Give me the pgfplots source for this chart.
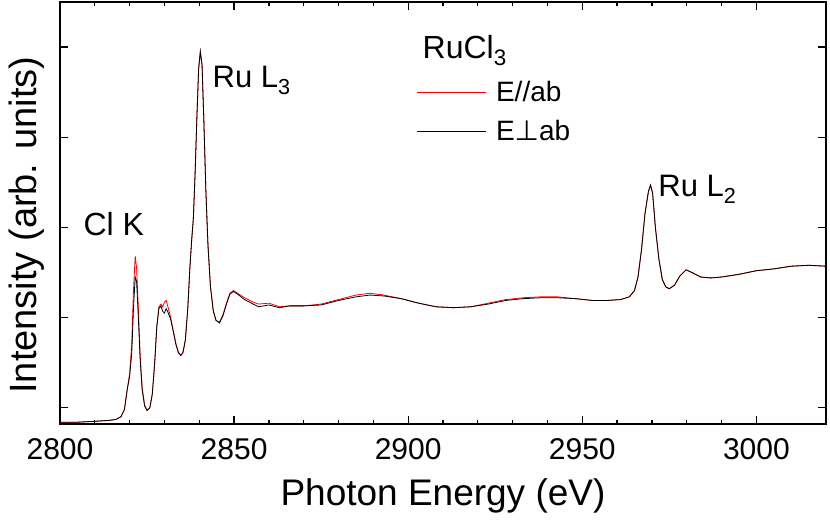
\documentclass[border=0pt]{standalone}
\usepackage{fontspec}
\setmainfont{Liberation Sans}
\newfontfamily\dejavu{DejaVu Sans}
\usepackage{pgfplots}
\pgfplotsset{compat=1.18}
\begin{document}
\begin{tikzpicture}
\begin{axis}[
  at={(0,0)}, anchor=south west,
  scale only axis, width=766pt, height=422pt,
  xmin=2800, xmax=3020, ymin=-0.18, ymax=4.5,
  xtick={2800,2850,...,3000}, minor x tick num=4,
  ytick={0,1,2,3,4}, yticklabels={},
  major tick length=8pt, minor tick length=4.5pt,
  tick style={line width=1.3pt, black},
  axis line style={line width=1.4pt},
  /pgf/number format/assume math mode=true,
  /pgf/number format/1000 sep={},
  ticklabel style={font=\fontsize{30}{34}\selectfont},
  xticklabel style={yshift=-11pt},
  xlabel={Photon Energy (eV)},
  ylabel={Intensity (arb. units)},
  label style={font=\fontsize{37}{41}\selectfont},
  xlabel style={yshift=-12pt},
  ylabel style={yshift=5pt, xshift=-12pt, font=\fontsize{38}{42}\selectfont},
  legend style={draw=none, fill=none, at={(axis cs:2901.4,3.67)}, anchor=north west,
     font=\fontsize{28}{32}\selectfont, row sep=13.5pt, column sep=8pt,
     legend cell align=left},
  legend image code/.code={\draw[#1] (0pt,0pt) -- (69pt,0pt);},
]
\addplot[red, line width=0.8pt] coordinates {
(2800,-0.16) (2805,-0.16) (2810,-0.15) (2814,-0.14) (2816,-0.13) (2817.5,-0.10)
(2818.5,-0.02) (2819.3,0.2) (2820,0.38) (2820.6,0.7) (2821.1,1.3) (2821.6,1.68)
(2822.0,1.55) (2822.5,1.1) (2823.0,0.6) (2823.6,0.22) (2824.3,0.03) (2825.0,-0.03)
(2825.8,0.0) (2826.5,0.15) (2827.2,0.5) (2827.8,0.9) (2828.4,1.12) (2829.0,1.15)
(2829.5,1.12) (2830.0,1.17) (2830.5,1.19) (2831.0,1.12) (2831.8,1.0) (2832.5,0.86)
(2833.3,0.71) (2834.0,0.62) (2834.7,0.58) (2835.3,0.61) (2836.0,0.75) (2836.7,1.1)
(2837.3,1.55) (2837.8,1.85) (2838.3,2.1) (2838.8,2.6) (2839.3,3.2) (2839.8,3.75)
(2840.3,3.95) (2840.8,3.8) (2841.3,3.2) (2841.9,2.4) (2842.5,1.8) (2843.2,1.35)
(2844.0,1.08) (2844.8,0.97) (2845.8,0.95) (2846.8,1.03) (2847.8,1.16) (2848.8,1.27)
(2849.8,1.30) (2851,1.27) (2853,1.22) (2855,1.18) (2857,1.15) (2860,1.16)
(2863,1.12) (2866,1.13) (2870,1.13) (2875,1.15) (2880,1.2) (2885,1.25)
(2889,1.27) (2893,1.25) (2898,1.21) (2903,1.16) (2908,1.12) (2913,1.11)
(2918,1.12) (2923,1.16) (2928,1.2) (2933,1.22) (2938,1.23) (2943,1.23)
(2948,1.21) (2953,1.19) (2957,1.19) (2961,1.20) (2963.5,1.23) (2965,1.30)
(2966,1.45) (2967,1.75) (2968,2.15) (2969,2.40) (2969.6,2.47) (2970.2,2.38)
(2971,2.0) (2972,1.65) (2973,1.42) (2974,1.34) (2975,1.32) (2976.5,1.36)
(2978,1.46) (2979.8,1.53) (2981.5,1.50) (2984,1.45) (2987,1.44) (2990,1.45)
(2995,1.48) (3000,1.52) (3005,1.54) (3010,1.57) (3015,1.58) (3020,1.57)
};
\addlegendentry{E//ab}
\addplot[black, line width=0.8pt] coordinates {
(2800,-0.16) (2805,-0.16) (2810,-0.15) (2814,-0.14) (2816,-0.13) (2817.5,-0.10)
(2818.5,-0.02) (2819.3,0.2) (2820,0.35) (2820.6,0.6) (2821.1,1.1) (2821.6,1.45)
(2822.0,1.40) (2822.5,1.0) (2823.0,0.55) (2823.6,0.2) (2824.3,0.02) (2825.0,-0.03)
(2825.8,0.0) (2826.5,0.15) (2827.2,0.5) (2827.8,0.9) (2828.4,1.1) (2829.0,1.13)
(2829.5,1.07) (2830.0,1.05) (2830.5,1.1) (2831.0,1.06) (2831.8,0.98) (2832.5,0.85)
(2833.3,0.7) (2834.0,0.61) (2834.7,0.58) (2835.3,0.61) (2836.0,0.75) (2836.7,1.1)
(2837.3,1.55) (2837.8,1.85) (2838.3,2.1) (2838.8,2.6) (2839.3,3.2) (2839.8,3.75)
(2840.3,3.95) (2840.8,3.8) (2841.3,3.2) (2841.9,2.4) (2842.5,1.8) (2843.2,1.35)
(2844.0,1.08) (2844.8,0.97) (2845.8,0.94) (2846.8,1.02) (2847.8,1.15) (2848.8,1.26)
(2849.8,1.29) (2851,1.26) (2853,1.2) (2855,1.16) (2857,1.12) (2860,1.14)
(2863,1.11) (2866,1.13) (2870,1.13) (2875,1.14) (2880,1.19) (2885,1.23)
(2889,1.25) (2893,1.24) (2898,1.21) (2903,1.16) (2908,1.12) (2913,1.11)
(2918,1.12) (2923,1.15) (2928,1.19) (2933,1.21) (2938,1.22) (2943,1.22)
(2948,1.21) (2953,1.19) (2957,1.19) (2961,1.20) (2963.5,1.23) (2965,1.30)
(2966,1.45) (2967,1.75) (2968,2.15) (2969,2.40) (2969.6,2.47) (2970.2,2.38)
(2971,2.0) (2972,1.65) (2973,1.42) (2974,1.34) (2975,1.32) (2976.5,1.36)
(2978,1.46) (2979.8,1.53) (2981.5,1.50) (2984,1.45) (2987,1.44) (2990,1.45)
(2995,1.48) (3000,1.52) (3005,1.54) (3010,1.57) (3015,1.58) (3020,1.57)
};
\addlegendentry{E{\dejavu ⊥}ab}
\node[font=\fontsize{32}{36}\selectfont, anchor=base west, inner sep=0pt] at (axis cs:2806.7,1.906) {Cl K};
\node[font=\fontsize{31}{35}\selectfont, anchor=base west, inner sep=0pt] at (axis cs:2843.8,3.55) {Ru L\textsubscript{3}};
\node[font=\fontsize{31}{35}\selectfont, anchor=base west, inner sep=0pt] at (axis cs:2971.8,2.34) {Ru L\textsubscript{2}};
\node[font=\fontsize{32}{36}\selectfont, anchor=base west, inner sep=0pt] at (axis cs:2904.1,3.87) {RuCl\textsubscript{3}};
\end{axis}
\pgfresetboundingbox
\path[use as bounding box] (-60pt,-98pt) rectangle (770pt,424pt);
\end{tikzpicture}
\end{document}
